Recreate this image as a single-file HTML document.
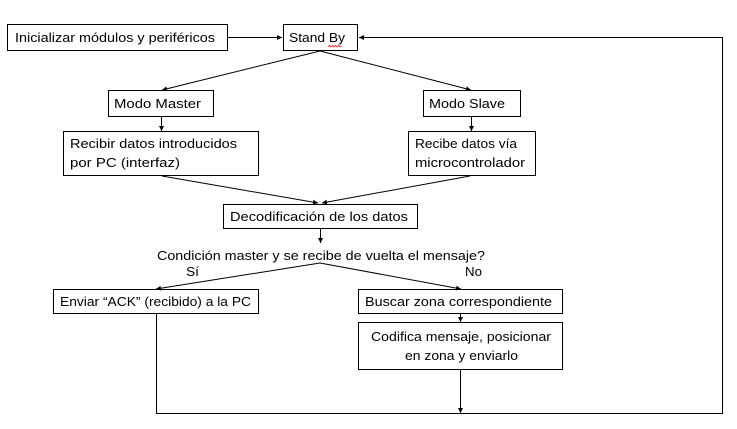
<!DOCTYPE html>
<html><head><meta charset="utf-8"><style>
html,body{margin:0;padding:0;background:#fff;}
svg{display:block;}
text{font-family:"Liberation Sans",sans-serif;font-size:13px;fill:#000;}
</style></head><body>
<svg width="737" height="429" viewBox="0 0 737 429" xmlns="http://www.w3.org/2000/svg">
<defs><marker id="a" markerWidth="6" markerHeight="6" refX="5" refY="3" orient="auto" markerUnits="userSpaceOnUse"><path d="M0,0.5 L5,3 L0,5.5 Z" fill="#000"/></marker></defs>
<g fill="#fff" stroke="#000" stroke-width="1">
<rect x="7.5" y="24.5" width="220" height="26"/>
<rect x="283.5" y="24.5" width="74" height="26"/>
<rect x="108.5" y="90.5" width="105" height="26"/>
<rect x="423.5" y="90.5" width="97" height="26"/>
<rect x="63.5" y="131.5" width="195" height="44"/>
<rect x="408.5" y="131.5" width="127" height="44"/>
<rect x="223.5" y="204.5" width="194" height="24"/>
<rect x="53.5" y="289.5" width="205" height="24"/>
<rect x="358.5" y="289.5" width="204" height="24"/>
<rect x="358.5" y="322.5" width="204" height="47"/>
</g>
<g stroke="#000" stroke-width="1" fill="none">
<line x1="228" y1="37.5" x2="282" y2="37.5" marker-end="url(#a)"/>
<polyline points="156.5,314 156.5,413.5 722.5,413.5 722.5,37.5 359,37.5" marker-end="url(#a)"/>
<line x1="320" y1="51" x2="162" y2="90" marker-end="url(#a)"/>
<line x1="320" y1="51" x2="471" y2="90" marker-end="url(#a)"/>
<line x1="161.5" y1="117" x2="161.5" y2="131" marker-end="url(#a)"/>
<line x1="471.5" y1="117" x2="471.5" y2="131" marker-end="url(#a)"/>
<line x1="162" y1="176" x2="318" y2="203" marker-end="url(#a)"/>
<line x1="470" y1="176" x2="322" y2="203" marker-end="url(#a)"/>
<line x1="320.5" y1="229" x2="320.5" y2="243" marker-end="url(#a)"/>
<line x1="320" y1="263" x2="156" y2="289" marker-end="url(#a)"/>
<line x1="320" y1="263" x2="461" y2="289" marker-end="url(#a)"/>
<line x1="460.5" y1="314" x2="460.5" y2="322" marker-end="url(#a)"/>
<line x1="460.5" y1="370" x2="460.5" y2="413" marker-end="url(#a)"/>
</g>
<text x="15" y="42" textLength="200" lengthAdjust="spacingAndGlyphs">Inicializar módulos y periféricos</text>
<text x="289" y="42" textLength="56" lengthAdjust="spacingAndGlyphs">Stand By</text>
<path d="M328,47 l1.5,-1.5 l1.5,1.5 l1.5,-1.5 l1.5,1.5 l1.5,-1.5 l1.5,1.5 l1.5,-1.5 l1.5,1.5 l1.5,-1.5" stroke="#e02020" fill="none" stroke-width="0.8"/>
<text x="114" y="108" textLength="87" lengthAdjust="spacingAndGlyphs">Modo Master</text>
<text x="429" y="108" textLength="76" lengthAdjust="spacingAndGlyphs">Modo Slave</text>
<text x="70" y="148" textLength="167" lengthAdjust="spacingAndGlyphs">Recibir datos introducidos</text>
<text x="70" y="167" textLength="110" lengthAdjust="spacingAndGlyphs">por PC (interfaz)</text>
<text x="415" y="148" textLength="102" lengthAdjust="spacingAndGlyphs">Recibe datos vía</text>
<text x="415" y="167" textLength="110" lengthAdjust="spacingAndGlyphs">microcontrolador</text>
<text x="230" y="221" textLength="178" lengthAdjust="spacingAndGlyphs">Decodificación de los datos</text>
<text x="157" y="260" textLength="328" lengthAdjust="spacingAndGlyphs">Condición master y se recibe de vuelta el mensaje?</text>
<text x="186" y="276" textLength="13" lengthAdjust="spacingAndGlyphs">Sí</text>
<text x="465" y="276" textLength="17" lengthAdjust="spacingAndGlyphs">No</text>
<text x="60" y="306" textLength="191" lengthAdjust="spacingAndGlyphs">Enviar “ACK” (recibido) a la PC</text>
<text x="365" y="306" textLength="187" lengthAdjust="spacingAndGlyphs">Buscar zona correspondiente</text>
<text x="371" y="341" textLength="180" lengthAdjust="spacingAndGlyphs">Codifica mensaje, posicionar</text>
<text x="405" y="360" textLength="113" lengthAdjust="spacingAndGlyphs">en zona y enviarlo</text>
</svg>
</body></html>
